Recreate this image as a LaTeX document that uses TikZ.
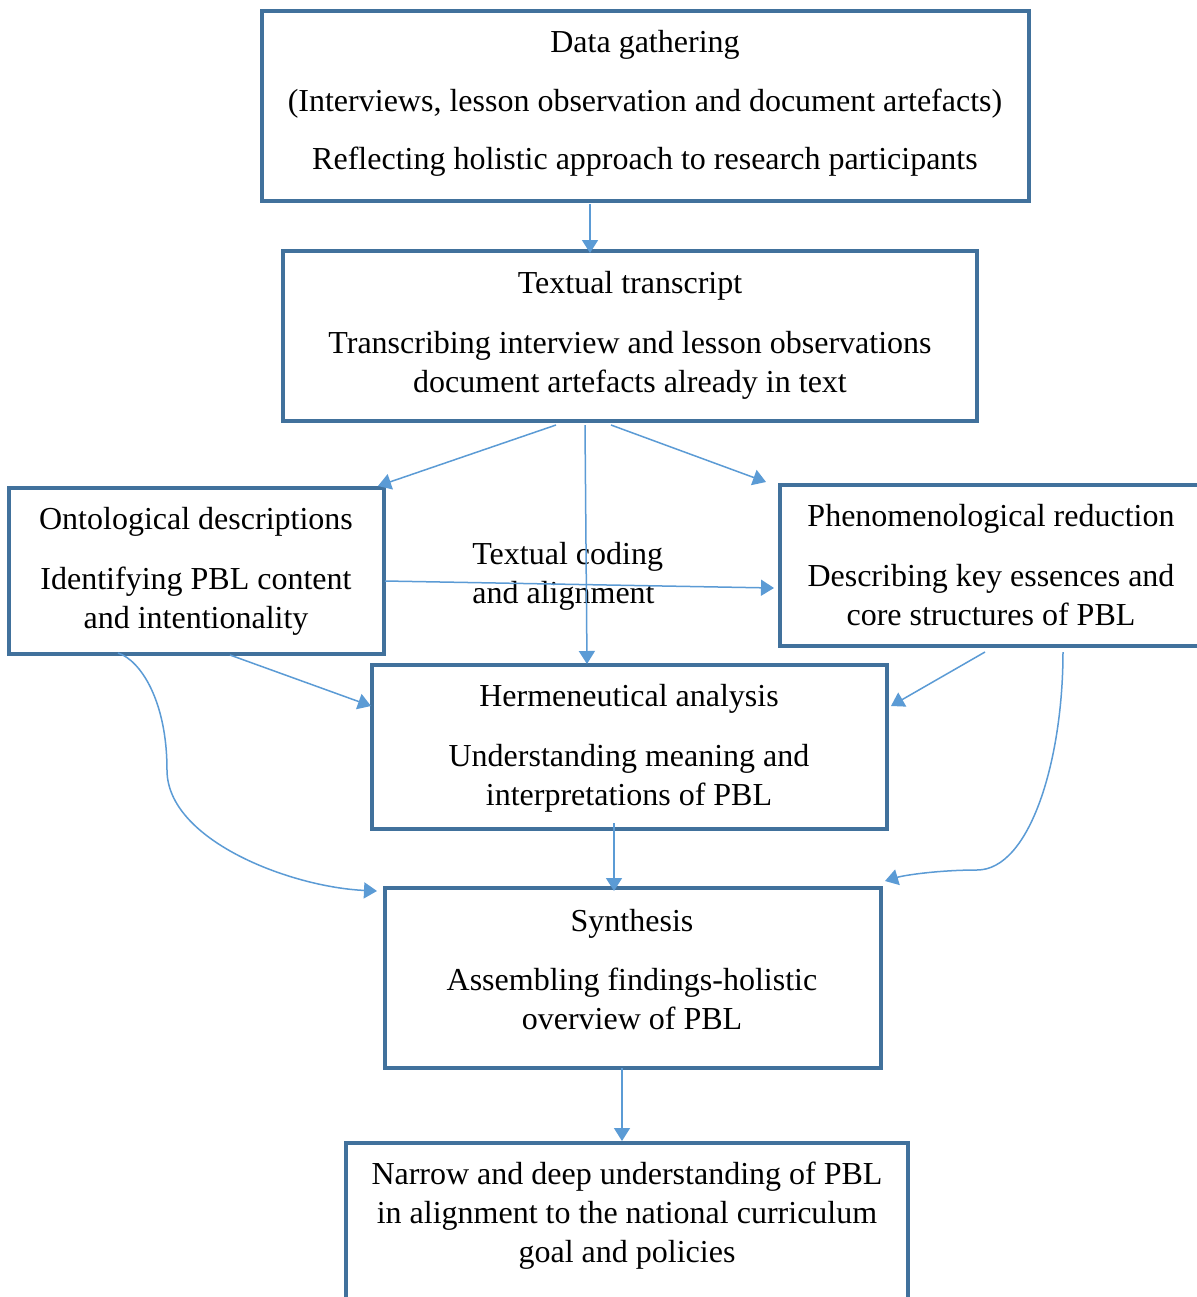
\documentclass[tikz,border=0pt]{standalone}
\usepackage{fontspec}
\setmainfont{Liberation Serif}
\usetikzlibrary{arrows.meta,calc}
\definecolor{boxblue}{HTML}{41719C}
\definecolor{linkblue}{HTML}{5B9BD5}
\begin{document}
\begin{tikzpicture}[x=0.5pt,y=-0.5pt,
  stagebox/.style={draw=boxblue,line width=1.6pt,inner sep=0pt,outer sep=0pt},
  txt/.style={font=\fontsize{16}{19.5}\selectfont,align=center,inner sep=0pt},
  link/.style={draw=linkblue,line width=0.75pt,-{Triangle[length=6.5pt,width=8pt]}}]
\useasboundingbox (0,0) rectangle (1197,1297);
\fill[white] (0,0) rectangle (1197,1297);
\clip (0,0) rectangle (1197,1297);

% stage boxes
\node[stagebox,minimum width=383.5pt,minimum height=95pt] (b1) at (645.5,106) {};
\node[stagebox,minimum width=347pt,minimum height=85pt] (b2) at (630,336) {};
\node[stagebox,minimum width=187.5pt,minimum height=83pt] (b3) at (196.5,571) {};
\node[stagebox,minimum width=215pt,minimum height=80.5pt] (b4) at (995,565.5) {};
\node[stagebox,minimum width=257.5pt,minimum height=82pt] (b5) at (629.5,747) {};
\node[stagebox,minimum width=248pt,minimum height=90pt] (b6) at (633,978) {};
\node[stagebox,minimum width=281pt,minimum height=88.5pt] (b7) at (627,1231.5) {};

% box texts
\node[txt] (t1) at (645,103.5) {Data gathering\\[9.75pt](Interviews, lesson observation and document artefacts)\\[9.75pt]Reflecting holistic approach to research participants};
\node[txt] (t2) at (630,335.5) {Textual transcript\\[10.5pt]Transcribing interview and lesson observations\\document artefacts already in text};
\node[txt] (t3) at (196,571.5) {Ontological descriptions\\[10.5pt]Identifying PBL content\\and intentionality};
\node[txt] (t4) at (991,565.5) {Phenomenological reduction\\[10.5pt]Describing key essences and\\core structures of PBL};
\node[txt] (t5) at (629,748.5) {Hermeneutical analysis\\[10.5pt]Understanding meaning and\\interpretations of PBL};
\node[txt] (t6) at (632,970) {Synthesis\\[10pt]Assembling findings-holistic\\overview of PBL};
\node[txt] (t7) at (627,1216) {Narrow and deep understanding of PBL\\in alignment to the national curriculum\\goal and policies};
\node[txt,align=left,anchor=west] (tc) at (472,576) {Textual coding\\and alignment};

% straight connectors
\draw[link] ($(b1.south)+(-55.5,3)$) -- ($(b2.north)+(-40,2)$);
\draw[link] ($(b2.south)+(-74,4)$) -- ($(b3.north east)+(-6,-2)$);
\draw[link] ($(b2.south)+(-45,4)$) -- ($(b5.north)+(-42.5,-1)$);
\draw[link] ($(b2.south)+(-19,4)$) -- ($(b4.north west)+(-14,-3)$);
\draw[link] ($(b3.east)+(1,10)$) -- ($(b4.west)+(-6,22.5)$);
\draw[link] ($(b3.south)+(33.5,1)$) -- ($(b5.west)+(-1,-41)$);
\draw[link] ($(b4.south)+(-10,6)$) -- ($(b5.east)+(4,-41)$);
\draw[link] ($(b5.south)+(-15.5,-6)$) -- ($(b6.north)+(-19,3)$);
\draw[link] ($(b6.south)+(-11,0)$) -- ($(b7.north)+(-5,-2)$);

% curved connectors into the synthesis box
\coordinate (bendL) at (167,770);
\coordinate (bendR) at (977,870);
\draw[link] ($(b3.south)+(-78.5,-1)$) .. controls +(22,7) and +(0,-70) .. (bendL)
  .. controls +(0,70) and +(-87,-4) .. ($(b6.north west)+(-8,3)$);
\draw[link] ($(b4.south)+(68,6)$) .. controls +(0,108) and +(53,0) .. (bendR)
  .. controls +(-37,0) and +(20,-6) .. ($(b6.north east)+(4,-7)$);
\end{tikzpicture}
\end{document}
